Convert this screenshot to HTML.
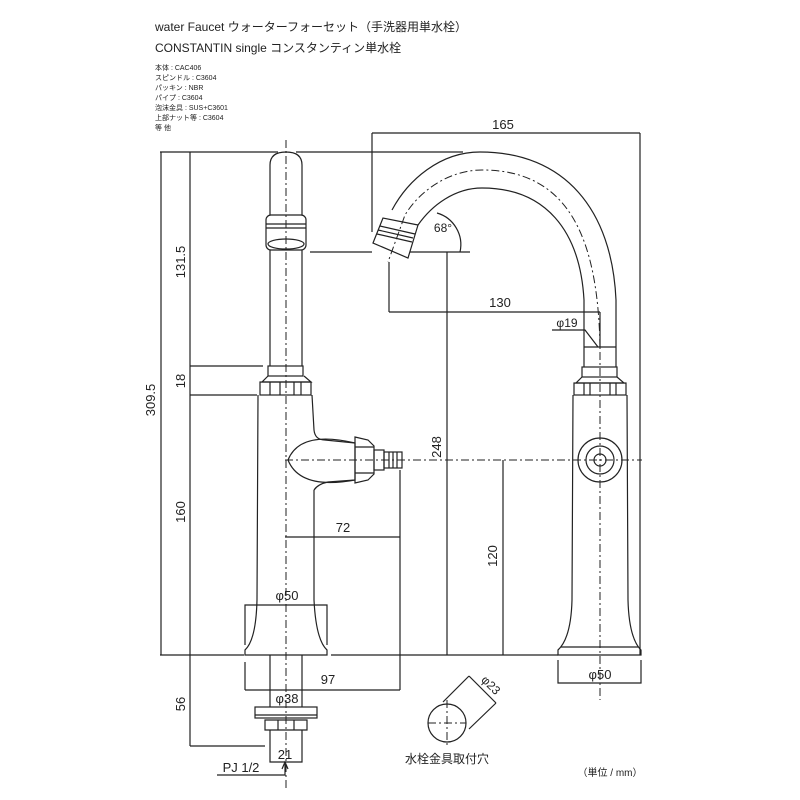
<!DOCTYPE html>
<html><head><meta charset="utf-8"><style>
body{margin:0;background:#fff}
svg{display:block}
text{font-family:"Liberation Sans","Noto Sans CJK JP",sans-serif;fill:#222}
</style></head><body>
<svg width="800" height="800" viewBox="0 0 800 800" xmlns="http://www.w3.org/2000/svg">
<g>
<text x="155" y="31" font-size="12">water Faucet  ウォーターフォーセット（手洗器用単水栓）</text>
<text x="155" y="52" font-size="12">CONSTANTIN single  コンスタンティン単水栓</text>
<g font-size="7">
<text x="155" y="70">本体 : CAC406</text>
<text x="155" y="80">スピンドル : C3604</text>
<text x="155" y="90">パッキン : NBR</text>
<text x="155" y="100">パイプ : C3604</text>
<text x="155" y="110">泡沫金具 : SUS+C3601</text>
<text x="155" y="120">上部ナット等 : C3604</text>
<text x="155" y="130">等 他</text>
</g>
</g>
<g fill="none" stroke="#222" stroke-width="1.2">
<!-- dimension lines -->
<line x1="160" y1="152" x2="278" y2="152"/>
<line x1="296" y1="152" x2="463" y2="152"/>
<line x1="161" y1="152" x2="161" y2="655"/>
<line x1="190" y1="152" x2="190" y2="746"/>
<line x1="190" y1="366" x2="263" y2="366"/>
<line x1="190" y1="395" x2="257" y2="395"/>
<line x1="160" y1="655" x2="244" y2="655"/>
<line x1="331" y1="655" x2="558" y2="655"/>
<line x1="190" y1="746" x2="265" y2="746"/>
<!-- 165 -->
<line x1="372" y1="133" x2="640" y2="133"/>
<line x1="372" y1="133" x2="372" y2="232"/>
<line x1="640" y1="133" x2="640" y2="655"/>
<!-- 130 -->
<line x1="389" y1="262" x2="389" y2="312"/>
<line x1="389" y1="312" x2="600" y2="312"/>
<line x1="600" y1="312" x2="600" y2="347"/>
<!-- 68 baseline -->
<line x1="310" y1="252" x2="372" y2="252"/>
<line x1="410" y1="252" x2="470" y2="252"/>
<path d="M460,252 A33,33 0 0 0 437,213"/>
<!-- 248 -->
<line x1="447" y1="252" x2="447" y2="655"/>
<!-- 72 -->
<line x1="285" y1="537" x2="400" y2="537"/>
<line x1="400" y1="470" x2="400" y2="690"/>
<!-- 97 -->
<line x1="245" y1="662" x2="245" y2="690"/>
<line x1="245" y1="690" x2="400" y2="690"/>
<!-- phi50 left -->
<polyline points="245,645 245,605 327,605 327,645"/>
<!-- 120 -->
<line x1="503" y1="460" x2="503" y2="655"/>
<!-- phi50 right -->
<polyline points="558,660 558,683 641,683 641,660"/>
<!-- phi19 -->
<polyline points="552,330 585,330 598,347"/>
<!-- 21 -->
<polyline points="270,746 270,762 302,762 302,746"/>
<polyline points="217,775 285,775 285,764"/>
<path d="M282,769 L285,762 L288,769" />

<!-- left faucet -->
<path d="M270,366 L270,165 Q270,152 286,152 Q302,152 302,165 L302,366"/>
<rect x="266" y="215" width="40" height="35" rx="5" fill="#fff"/>
<line x1="266" y1="224" x2="306" y2="224"/>
<line x1="266" y1="228" x2="306" y2="228"/>
<ellipse cx="286" cy="244" rx="18" ry="5"/>
<rect x="268" y="366" width="35" height="10"/>
<path d="M268,376 L262,382 L311,382 L304,376"/>
<rect x="260" y="382" width="51" height="13"/>
<line x1="270" y1="382" x2="270" y2="395"/><line x1="280" y1="382" x2="280" y2="395"/>
<line x1="294" y1="382" x2="294" y2="395"/><line x1="301" y1="382" x2="301" y2="395"/>
<path d="M258,395 L257,600 Q256,640 245,650 L245,655 L327,655 L327,650 Q316,640 314,600 L314,490"/>
<path d="M312,395 L314,430 Q315,440 325,440 L355,443 L355,480 L328,482 Q318,484 314,490"/>
<path d="M355,443 Q300,430 288,460 Q300,490 355,480"/>
<polygon points="355,437 368,440 374,446 374,474 368,480 355,483"/>
<line x1="355" y1="447" x2="374" y2="447"/><line x1="355" y1="473" x2="374" y2="473"/>
<rect x="374" y="450" width="10" height="20"/>
<rect x="384" y="452" width="18" height="16"/>
<line x1="389" y1="452" x2="389" y2="468"/><line x1="393" y1="452" x2="393" y2="468"/><line x1="397" y1="452" x2="397" y2="468"/>
<!-- below base -->
<line x1="270" y1="655" x2="270" y2="707"/><line x1="302" y1="655" x2="302" y2="707"/>
<rect x="255" y="707" width="62" height="11"/>
<line x1="255" y1="715" x2="317" y2="715"/>
<polygon points="265,720 307,720 307,730 265,730"/>
<line x1="278" y1="720" x2="278" y2="730"/><line x1="294" y1="720" x2="294" y2="730"/>
<line x1="270" y1="730" x2="270" y2="746"/><line x1="302" y1="730" x2="302" y2="746"/>

<!-- right faucet -->
<path d="M616,347 L616,300 C612,210 565,152 480,152 C440,152 408,180 392,210"/>
<path d="M584,347 L584,300 C580,230 545,188 482,188 C455,188 432,205 418,225"/>
<line x1="584" y1="347" x2="616" y2="347"/>
<line x1="584" y1="347" x2="584" y2="367"/><line x1="616" y1="347" x2="616" y2="367"/>
<polygon points="373,243 383,218 418,225 408,258" fill="#fff"/>
<line x1="380" y1="226" x2="415" y2="234"/>
<line x1="378" y1="230" x2="413" y2="238"/>
<line x1="377" y1="234" x2="412" y2="242"/>
<rect x="582" y="367" width="35" height="10"/>
<path d="M582,377 L576,383 L624,383 L617,377"/>
<rect x="574" y="383" width="52" height="12"/>
<line x1="584" y1="383" x2="584" y2="395"/><line x1="590" y1="383" x2="590" y2="395"/>
<line x1="610" y1="383" x2="610" y2="395"/><line x1="616" y1="383" x2="616" y2="395"/>
<path d="M573,395 L572,600 Q571,638 558,650 L558,655 L641,655 L641,650 Q629,638 628,600 L627,395"/>
<line x1="561" y1="647" x2="638" y2="647"/>
<circle cx="600" cy="460" r="22"/>
<circle cx="600" cy="460" r="14"/>
<circle cx="600" cy="460" r="6"/>
<!-- mounting hole -->
<circle cx="447" cy="723" r="19"/>
<line x1="443" y1="702" x2="469" y2="676"/>
<line x1="469" y1="676" x2="496" y2="703"/>
<line x1="496" y1="703" x2="469" y2="729"/>
</g>
<g fill="none" stroke="#222" stroke-width="1" stroke-dasharray="8,3,2,3">
<line x1="286" y1="140" x2="286" y2="790"/>
<line x1="285" y1="460" x2="642" y2="460"/>
<line x1="600" y1="320" x2="600" y2="700"/>
<path d="M600,347 C598,240 570,170 482,170 C450,170 420,190 405,215 L388,262"/>
<line x1="428" y1="723" x2="466" y2="723"/>
<line x1="447" y1="700" x2="447" y2="748"/>
</g>
<g font-size="13" text-anchor="middle">
<text x="503" y="129">165</text>
<text x="500" y="307">130</text>
<text x="567" y="327" font-size="12">φ19</text>
<text x="443" y="232" font-size="12">68°</text>
<text x="343" y="532">72</text>
<text x="328" y="684">97</text>
<text x="287" y="600">φ50</text>
<text x="287" y="703">φ38</text>
<text x="285" y="759">21</text>
<text x="241" y="772">PJ 1/2</text>
<text x="600" y="679">φ50</text>
<text transform="translate(155,400) rotate(-90)">309.5</text>
<text transform="translate(185,262) rotate(-90)">131.5</text>
<text transform="translate(185,381) rotate(-90)">18</text>
<text transform="translate(185,512) rotate(-90)">160</text>
<text transform="translate(185,704) rotate(-90)">56</text>
<text transform="translate(441,447) rotate(-90)">248</text>
<text transform="translate(497,556) rotate(-90)">120</text>
<text transform="translate(488,688) rotate(45)" font-size="12">φ23</text>
<text x="447" y="763" font-size="12">水栓金具取付穴</text>
<text x="610" y="776" font-size="10">（単位 / mm）</text>
</g>
</svg>
</body></html>
